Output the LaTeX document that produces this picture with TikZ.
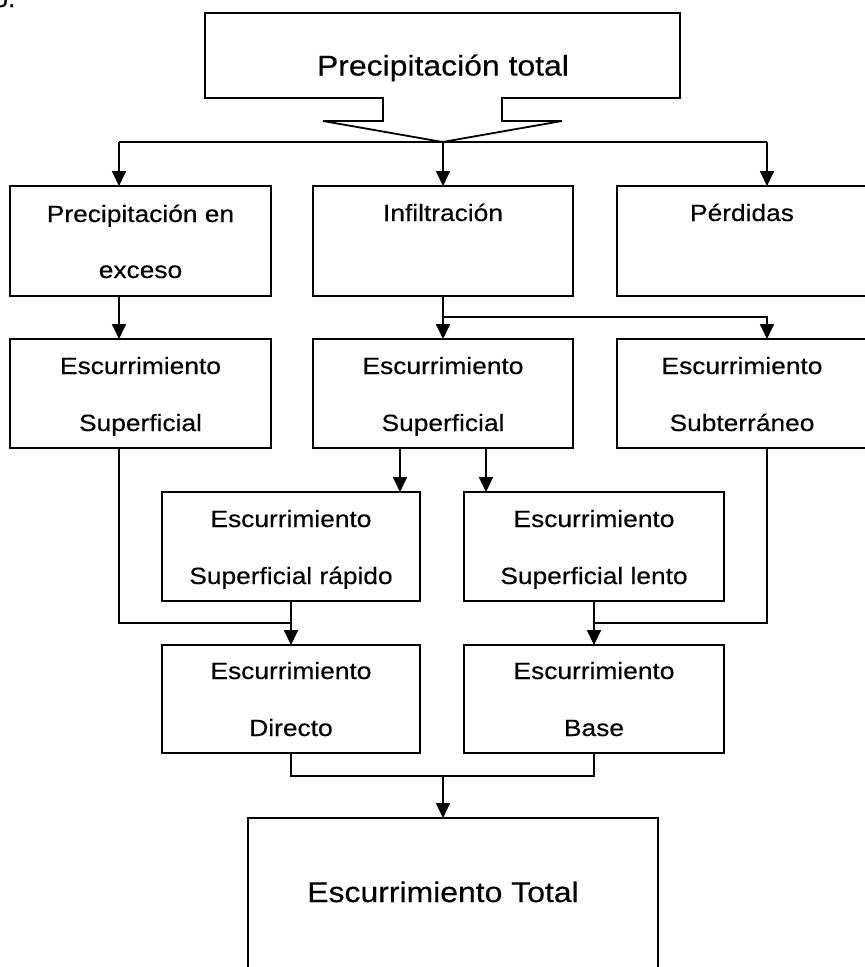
\documentclass[tikz,border=0pt]{standalone}
\usepackage{fontspec}
\setmainfont{Liberation Sans}[FakeStretch=1.12, FakeBold=0.4]
\usetikzlibrary{arrows.meta}

\tikzset{
  box/.style={draw, line width=1.8pt, rectangle, inner sep=0pt, outer sep=0pt},
  lbl/.style={anchor=base, inner sep=0pt, font=\fontsize{23.5}{28}\selectfont},
  biglbl/.style={anchor=base, inner sep=0pt, font=\fontsize{28.5}{33}\selectfont},
  wire/.style={line width=1.8pt},
  arr/.style={wire, -{Triangle[length=15pt,width=14pt]}},
}

\begin{document}
\begin{tikzpicture}[x=1pt,y=-1pt]
\useasboundingbox (0,0) rectangle (865,967);
\clip (0,0) rectangle (865,967);

% heading fragment of the preceding text line
\node[lbl, anchor=base east] (frag) at (15.5,7) {o.};

% column positions used by the connectors
\coordinate (xL) at (119,0);
\coordinate (xM) at (443,0);
\coordinate (xR) at (767,0);
\coordinate (xC) at (400,0);
\coordinate (xD) at (486,0);

% top callout box with its funnel outlet
\draw[wire, line join=miter]
  (205,13) -- (680,13) -- (680,98) -- (502,98) -- (502,121) -- (562,121)
  -- (442.5,142) -- (323,121) -- (383,121) -- (383,98) -- (205,98) -- cycle;
\coordinate (tip) at (443,142);
\node[biglbl] (ttop) at (443,75.5) {Precipitación total};

% first row
\node[box, minimum width=261pt, minimum height=110pt] (r1a) at (140.5,241) {};
\node[box, minimum width=260pt, minimum height=110pt] (r1b) at (443,241) {};
\node[box, minimum width=252pt, minimum height=110pt] (r1c) at (743,241) {};
\node[lbl] (t1a1) at (140.5,222) {Precipitación en};
\node[lbl] (t1a2) at (140.5,278) {exceso};
\node[lbl] (t1b1) at (443,221) {Infiltración};
\node[lbl] (t1c1) at (742,221) {Pérdidas};

% second row
\node[box, minimum width=261pt, minimum height=109pt] (r2a) at (140.5,393.5) {};
\node[box, minimum width=260pt, minimum height=109pt] (r2b) at (443,393.5) {};
\node[box, minimum width=252pt, minimum height=109pt] (r2c) at (743,393.5) {};
\node[lbl] (t2a1) at (140.5,374) {Escurrimiento};
\node[lbl] (t2a2) at (140.5,431) {Superficial};
\node[lbl] (t2b1) at (443,374) {Escurrimiento};
\node[lbl] (t2b2) at (443,431) {Superficial};
\node[lbl] (t2c1) at (742,374) {Escurrimiento};
\node[lbl] (t2c2) at (742,431) {Subterráneo};

% third row
\node[box, minimum width=258pt, minimum height=109pt] (r3a) at (291,546.5) {};
\node[box, minimum width=260pt, minimum height=109pt] (r3b) at (594,546.5) {};
\node[lbl] (t3a1) at (291,527) {Escurrimiento};
\node[lbl] (t3a2) at (291,584) {Superficial rápido};
\node[lbl] (t3b1) at (594,527) {Escurrimiento};
\node[lbl] (t3b2) at (594,584) {Superficial lento};

% fourth row
\node[box, minimum width=258pt, minimum height=108pt] (r4a) at (291,699) {};
\node[box, minimum width=260pt, minimum height=108pt] (r4b) at (594,699) {};
\node[lbl] (t4a1) at (291,679) {Escurrimiento};
\node[lbl] (t4a2) at (291,736) {Directo};
\node[lbl] (t4b1) at (594,679) {Escurrimiento};
\node[lbl] (t4b2) at (594,736) {Base};

% result box
\node[box, minimum width=410pt, minimum height=182pt] (bot) at (453,909) {};
\node[biglbl] (tbot) at (443,902) {Escurrimiento Total};

% distribution of the total precipitation
\draw[wire] (xL |- tip) -- (xR |- tip);
\draw[arr] (xL |- tip) -- (xL |- r1a.north);
\draw[arr] (tip) -- (xM |- r1b.north);
\draw[arr] (xR |- tip) -- (xR |- r1c.north);

% excess precipitation and infiltration
\draw[arr] (xL |- r1a.south) -- (xL |- r2a.north);
\coordinate (j1) at (443,317);
\draw[arr] (xM |- r1b.south) -- (xM |- r2b.north);
\draw[arr] (j1) -| (xR |- r2c.north);

% split of the subsurface runoff
\draw[arr] (xC |- r2b.south) -- (xC |- r3a.north);
\draw[arr] (xD |- r2b.south) -- (xD |- r3b.north);

% joins into direct and base runoff
\coordinate (m1) at (291,623);
\coordinate (m2) at (594,623);
\draw[wire] (xL |- r2a.south) |- (m1);
\draw[wire] (xR |- r2c.south) |- (m2);
\draw[arr] (r3a.south) -- (r4a.north);
\draw[arr] (r3b.south) -- (r4b.north);

% total runoff
\coordinate (j3) at (443,776);
\draw[wire] (r4a.south) |- (j3) -| (r4b.south);
\draw[arr] (j3) -- (xM |- bot.north);
\end{tikzpicture}
\end{document}
